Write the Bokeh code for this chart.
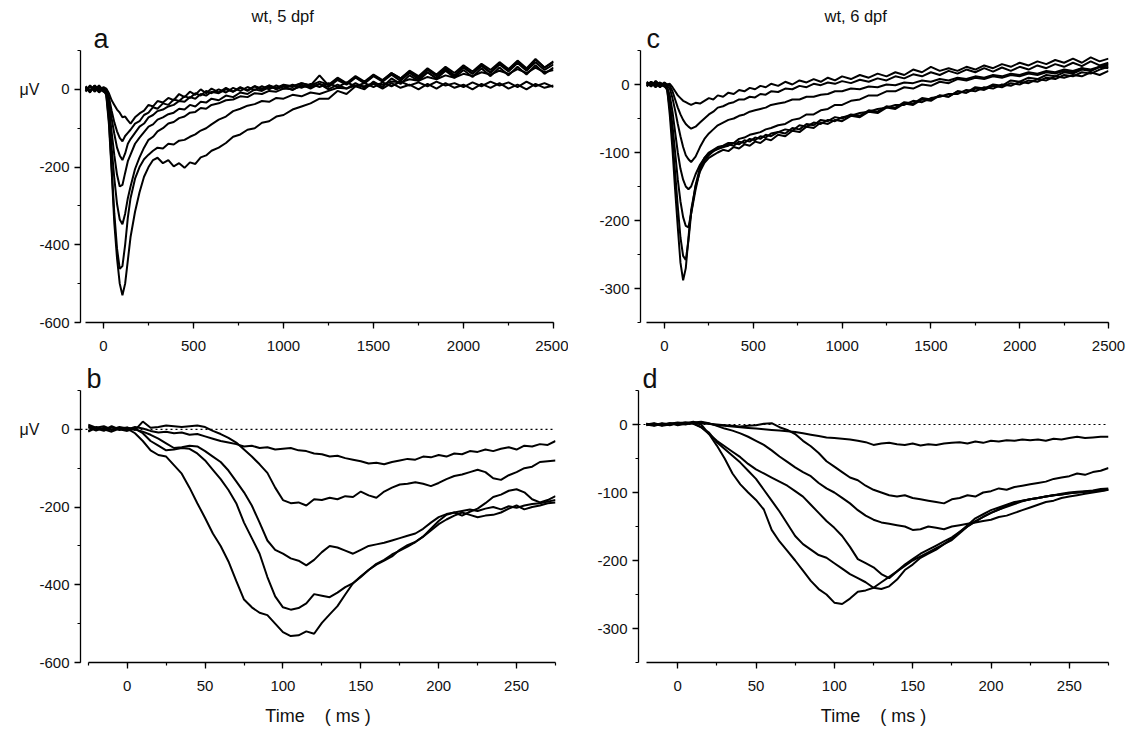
from bokeh.plotting import figure
from bokeh.layouts import column, row
from bokeh.models import (Range1d, SingleIntervalTicker, FixedTicker, Span,
                          PrintfTickFormatter, Title, LinearAxis)
from bokeh.embed import file_html
from bokeh.resources import INLINE

FONT = "Liberation Sans"

# ---------------- data: full-length recordings (ms, µV) ----------------
T_TOP = [-100, -75, -50, -25, 0,
         15, 30, 45, 60, 75, 90, 105, 120, 135, 150,
         175, 200, 225, 250, 275, 300, 330, 360, 390, 420,
         450, 480, 510, 540, 570, 600, 640, 680, 720, 760,
         800, 840, 880, 920, 960, 1000, 1050, 1100, 1150, 1200,
         1250, 1300, 1350, 1400, 1450, 1500, 1550, 1600, 1650, 1700,
         1750, 1800, 1850, 1900, 1950, 2000, 2050, 2100, 2150, 2200,
         2250, 2300, 2350, 2400, 2450, 2500]

# panel a: wt, 5 dpf
A1 = [5, -8, 10, -4, 6,
      2, -10, -28, -40, -52, -60, -72, -70, -80, -88,
      -72, -62, -55, -40, -44, -30, -34, -22, -28, -12,
      -20, -6, -14, 0, -10, 2, -8, 4, -6, 6,
      -4, 8, -2, 10, 0, 8, -2, 12, 2, 14,
      0, 12, 2, 16, 4, 14, 2, 16, 4, 12,
      0, 14, 2, 16, 4, 12, 0, 14, 4, 16,
      2, 12, 0, 14, 4, 10]
A2 = [-6, 8, -2, 10, -4,
      0, -20, -55, -85, -108, -125, -134, -120, -112, -104,
      -88, -82, -66, -60, -46, -50, -36, -40, -26, -30,
      -18, -22, -10, -16, -4, -10, 0, -8, 4, -4,
      6, -2, 8, 0, 10, 2, 12, 4, 14, 6,
      16, 6, 18, 8, 16, 6, 18, 8, 20, 10,
      18, 8, 20, 10, 16, 6, 18, 8, 20, 10,
      18, 6, 20, 8, 16, 6]
A3 = [8, -4, 6, -8, 2,
      -4, -30, -75, -115, -150, -170, -182, -165, -140, -128,
      -112, -96, -88, -72, -66, -56, -52, -44, -40, -30,
      -32, -20, -24, -12, -16, -6, -10, 0, -6, 4,
      -2, 8, 2, 10, 4, 12, 8, 16, 10, 36,
      10, 28, 14, 32, 16, 34, 20, 38, 22, 42,
      26, 44, 28, 48, 30, 50, 32, 54, 34, 56,
      36, 58, 38, 62, 40, 56]
A4 = [-4, 10, 0, 6, -6,
      -8, -45, -110, -170, -220, -250, -246, -215, -185, -168,
      -140, -124, -110, -96, -90, -78, -72, -64, -60, -50,
      -52, -40, -44, -32, -34, -24, -28, -16, -20, -8,
      -12, 0, -4, 6, 2, 10, 6, 16, 10, 20,
      12, 30, 16, 34, 20, 38, 24, 42, 28, 46,
      30, 50, 34, 54, 36, 58, 40, 60, 42, 64,
      46, 68, 48, 70, 50, 64]
A5 = [6, -2, 8, -6, 4,
      -10, -60, -150, -230, -295, -335, -347, -320, -280, -250,
      -205, -175, -150, -130, -122, -108, -100, -88, -84, -74,
      -70, -60, -58, -48, -50, -40, -36, -28, -26, -18,
      -20, -10, -12, -4, -6, 2, 0, 8, 6, 14,
      6, 24, 12, 30, 16, 36, 22, 42, 28, 48,
      34, 54, 38, 58, 42, 62, 46, 66, 50, 70,
      52, 74, 54, 78, 56, 72]
A6 = [-2, 8, -6, 4, 0,
      -12, -80, -200, -320, -410, -462, -455, -400, -330, -280,
      -230, -200, -180, -168, -158, -150, -152, -140, -142, -132,
      -130, -122, -116, -106, -100, -90, -78, -70, -56, -50,
      -42, -38, -30, -32, -22, -24, -14, -18, -8, -12,
      -4, 4, 2, 10, 8, 16, 12, 20, 18, 26,
      22, 32, 26, 36, 30, 40, 34, 44, 38, 48,
      40, 52, 42, 56, 44, 50]
A7 = [4, -6, 10, 0, -4,
      -14, -90, -210, -345, -435, -500, -530, -500, -440, -380,
      -315, -265, -225, -200, -182, -176, -190, -182, -198, -190,
      -202, -188, -192, -175, -170, -158, -150, -138, -122, -116,
      -104, -100, -86, -82, -70, -66, -52, -44, -36, -24,
      -24, -4, -12, 8, 0, 20, 6, 28, 14, 36,
      22, 44, 28, 50, 34, 56, 40, 62, 44, 66,
      50, 72, 52, 76, 56, 70]

# panel c: wt, 6 dpf
C1 = [2, -3, 5, -2, 3,
      0, 1, -4, -10, -16, -20, -24, -26, -28, -30,
      -27, -28, -24, -20, -22, -16, -18, -12, -14, -8,
      -10, -5, -7, -2, -4, 1, -2, 4, 0, 6,
      3, 8, 4, 10, 6, 12, 8, 14, 10, 16,
      12, 18, 14, 22, 18, 26, 20, 24, 20, 26,
      22, 28, 24, 30, 26, 32, 28, 34, 30, 36,
      32, 38, 32, 40, 34, 38]
C2 = [-3, 4, -1, 3, -2,
      0, -2, -10, -22, -34, -44, -52, -58, -62, -65,
      -62, -56, -50, -44, -40, -34, -32, -28, -26, -22,
      -22, -18, -19, -14, -15, -10, -11, -6, -7, -2,
      -4, 1, -1, 3, 1, 5, 2, 7, 4, 9,
      6, 12, 9, 15, 12, 18, 14, 20, 16, 22,
      18, 24, 19, 25, 20, 26, 22, 28, 24, 30,
      26, 32, 27, 34, 28, 32]
C3 = [3, -2, 4, -3, 1,
      -2, -6, -20, -38, -58, -76, -92, -104, -110, -114,
      -106, -92, -80, -72, -66, -60, -56, -52, -50, -46,
      -44, -40, -38, -36, -34, -30, -28, -26, -22, -22,
      -18, -18, -15, -14, -10, -10, -6, -7, -3, -4,
      0, -1, 3, 2, 6, 4, 8, 6, 10, 8,
      12, 10, 14, 12, 16, 14, 18, 16, 20, 18,
      22, 20, 24, 22, 26, 24]
C4 = [-2, 3, -4, 2, 0,
      -4, -16, -40, -70, -100, -124, -140, -150, -154, -150,
      -132, -118, -108, -100, -96, -92, -90, -86, -86, -80,
      -78, -74, -72, -70, -66, -64, -60, -58, -52, -50,
      -44, -44, -38, -36, -30, -30, -24, -22, -16, -16,
      -10, -10, -4, -6, 0, -2, 4, 2, 8, 6,
      10, 8, 12, 10, 14, 12, 16, 14, 18, 16,
      20, 18, 24, 20, 26, 28]
C5 = [4, -1, 2, -4, 3,
      -6, -25, -60, -100, -140, -172, -195, -208, -210, -190,
      -155, -125, -112, -104, -98, -94, -92, -88, -90, -84,
      -86, -80, -82, -76, -78, -72, -70, -66, -68, -60,
      -62, -56, -58, -52, -54, -48, -46, -42, -40, -36,
      -34, -30, -30, -24, -26, -20, -18, -14, -14, -8,
      -10, -4, -6, 0, -2, 4, 2, 8, 6, 12,
      10, 14, 12, 18, 14, 20]
C6 = [-1, 4, -3, 2, -2,
      -8, -35, -80, -130, -180, -225, -252, -258, -230, -190,
      -148, -122, -108, -102, -98, -95, -92, -90, -86, -88,
      -82, -84, -78, -80, -74, -76, -70, -72, -64, -66,
      -58, -60, -52, -54, -48, -50, -44, -46, -38, -40,
      -32, -34, -26, -28, -20, -22, -16, -18, -10, -12,
      -6, -8, -2, -4, 2, 0, 6, 4, 10, 8,
      14, 12, 18, 16, 22, 26]
C7 = [3, -2, 5, 0, -3,
      -6, -45, -95, -155, -210, -262, -288, -270, -225, -185,
      -150, -128, -115, -108, -104, -100, -96, -98, -92, -94,
      -88, -90, -84, -86, -80, -82, -74, -76, -68, -70,
      -62, -64, -56, -58, -52, -54, -46, -48, -40, -42,
      -34, -36, -28, -30, -22, -24, -16, -18, -10, -12,
      -4, -6, 0, -2, 6, 4, 10, 8, 14, 12,
      18, 16, 22, 20, 26, 30]

# ---------------- data: first 275 ms, expanded ----------------
T_B = [-25, -20, -15, -10, -5, 0, 5, 10, 15, 20,
       25, 30, 35, 40, 45, 50, 55, 60, 65, 70,
       75, 80, 85, 90, 95, 100, 105, 110, 115, 120,
       125, 130, 135, 140, 145, 150, 155, 160, 165, 170,
       175, 180, 185, 190, 195, 200, 205, 210, 215, 220,
       225, 230, 235, 240, 245, 250, 255, 260, 265, 270,
       275]
B1 = [5, -3, 4, -2, 3, 0, 6, 2, -4, -8,
      -6, -10, -8, -14, -12, -18, -24, -30, -34, -38,
      -44, -42, -48, -46, -52, -50, -48, -54, -56, -62,
      -64, -70, -68, -74, -78, -82, -88, -86, -90, -84,
      -80, -76, -78, -70, -72, -66, -70, -62, -64, -56,
      -58, -52, -56, -50, -46, -52, -42, -44, -38, -40,
      -30]
B2 = [-4, 6, 0, -6, 2, 5, -2, 20, 4, 6,
      10, 8, 6, 8, 10, 6, -4, -12, -22, -34,
      -52, -70, -90, -112, -150, -182, -190, -188, -196, -180,
      -182, -176, -180, -172, -174, -160, -170, -176, -160, -150,
      -142, -140, -136, -140, -146, -138, -128, -120, -116, -110,
      -104, -110, -126, -130, -118, -110, -100, -96, -84, -82,
      -80]
B3 = [8, 2, -4, 6, -2, 4, 0, -6, -14, -24,
      -36, -48, -46, -42, -44, -56, -70, -84, -106, -134,
      -162, -196, -240, -286, -310, -320, -332, -338, -350, -336,
      -316, -300, -304, -312, -320, -310, -300, -296, -292, -286,
      -280, -274, -268, -256, -240, -226, -218, -214, -210, -206,
      -210, -204, -200, -206, -198, -202, -196, -192, -190, -186,
      -182]
B4 = [-6, 4, -2, 8, 0, -4, 2, -10, -30, -42,
      -54, -52, -48, -50, -62, -80, -104, -128, -156, -190,
      -240, -280, -320, -380, -430, -458, -464, -460, -448, -424,
      -428, -432, -420, -406, -396, -380, -362, -346, -336, -322,
      -312, -302, -290, -276, -256, -236, -220, -214, -222, -212,
      -204, -190, -174, -168, -158, -154, -162, -180, -188, -182,
      -172]
B5 = [12, 4, 8, 0, 6, 2, -10, -30, -54, -66,
      -70, -92, -114, -150, -190, -228, -268, -300, -340, -390,
      -438, -458, -472, -478, -500, -522, -532, -530, -520, -526,
      -498, -476, -455, -425, -396, -378, -362, -348, -338, -327,
      -310, -298, -290, -276, -260, -244, -232, -222, -214, -220,
      -226, -222, -220, -214, -204, -196, -206, -200, -196, -190,
      -188]

T_D = [-20, -15, -10, -5, 0, 5, 10, 15, 20, 25,
       30, 35, 40, 45, 50, 55, 60, 65, 70, 75,
       80, 85, 90, 95, 100, 105, 110, 115, 120, 125,
       130, 135, 140, 145, 150, 155, 160, 165, 170, 175,
       180, 185, 190, 195, 200, 205, 210, 215, 220, 225,
       230, 235, 240, 245, 250, 255, 260, 265, 270, 275]
D1 = [0, -2, 1, -1, 2, 0, 3, 2, 1, -1,
      -2, -3, -4, -5, -6, -7, -8, -9, -10, -11,
      -13, -15, -17, -19, -20, -21, -22, -24, -26, -30,
      -28, -27, -29, -30, -28, -31, -29, -30, -28, -27,
      -26, -28, -25, -27, -24, -25, -23, -24, -22, -23,
      -22, -24, -21, -22, -20, -18, -20, -19, -18, -18]
D2 = [1, -1, 0, 2, -1, 1, 2, 3, 1, 0,
      -1, -2, -3, -2, -1, 1, 2, -4, -8, -14,
      -24, -32, -42, -54, -62, -70, -78, -82, -90, -96,
      -100, -104, -106, -104, -108, -110, -112, -114, -116, -110,
      -108, -104, -106, -100, -98, -94, -96, -92, -90, -88,
      -86, -84, -80, -78, -76, -72, -74, -70, -68, -64]
D3 = [-1, 1, -2, 0, 2, 1, 3, 4, 2, -2,
      -6, -9, -13, -18, -24, -30, -38, -47, -55, -63,
      -70, -76, -86, -94, -100, -108, -116, -126, -134, -140,
      -144, -146, -148, -150, -155, -154, -150, -152, -154, -150,
      -148, -146, -144, -142, -140, -136, -134, -130, -126, -122,
      -118, -114, -112, -108, -106, -104, -102, -100, -98, -96]
D4 = [0, 2, -1, 1, 3, 2, 4, 0, -14, -24,
      -32, -40, -48, -58, -66, -72, -78, -84, -90, -98,
      -106, -118, -130, -142, -152, -164, -180, -198, -204, -210,
      -220, -226, -216, -206, -198, -190, -184, -178, -172, -166,
      -158, -150, -143, -136, -130, -125, -120, -116, -112, -110,
      -108, -106, -104, -103, -101, -100, -99, -98, -97, -96]
D5 = [1, -1, 2, 0, 2, 3, 1, -4, -12, -26,
      -36, -46, -56, -68, -80, -96, -112, -128, -146, -164,
      -176, -184, -192, -196, -204, -212, -220, -226, -232, -240,
      -242, -238, -228, -214, -206, -196, -190, -184, -176, -170,
      -160, -150, -142, -136, -130, -125, -121, -117, -113, -110,
      -108, -106, -104, -102, -100, -99, -98, -97, -95, -94]
D6 = [0, 1, -1, 2, 1, 3, 2, -4, -14, -31,
      -50, -72, -88, -100, -111, -125, -155, -172, -186, -200,
      -215, -230, -242, -250, -262, -264, -256, -246, -244, -240,
      -232, -224, -216, -208, -200, -194, -188, -182, -176, -168,
      -158, -148, -138, -132, -126, -122, -118, -114, -112, -110,
      -108, -106, -104, -103, -101, -100, -99, -98, -97, -96]

TRACES_A = [A1, A2, A3, A4, A5, A6, A7]
TRACES_C = [C1, C2, C3, C4, C5, C6, C7]
TRACES_B = [B1, B2, B3, B4, B5]
TRACES_D = [D1, D2, D3, D4, D5, D6]

TIME_LABEL = "Time\u00a0\u00a0\u00a0\u00a0( ms )"
UNIT = "\u03bcV"


def make_panel(w, h, xr, yr, borders, xtick, ytick, xbounds, ybounds,
               letter, letter_offset, title=None, title_offset=0,
               xlabel=None, unit=False):
    bl, br, bt, bb = borders
    p = figure(width=w, height=h, output_backend="svg", toolbar_location=None,
               x_range=Range1d(*xr), y_range=Range1d(*yr),
               min_border_left=bl, min_border_right=br,
               min_border_top=bt, min_border_bottom=bb)
    p.outline_line_color = None
    p.xgrid.visible = False
    p.ygrid.visible = False
    p.background_fill_color = "white"
    p.border_fill_color = "white"
    p.xaxis.ticker = SingleIntervalTicker(interval=xtick, num_minor_ticks=2)
    p.yaxis.ticker = SingleIntervalTicker(interval=ytick, num_minor_ticks=2)
    p.xaxis.bounds = xbounds
    p.yaxis.bounds = ybounds
    for ax in (p.xaxis[0], p.yaxis[0]):
        ax.formatter = PrintfTickFormatter(format="%d")
        ax.axis_line_color = "black"
        ax.axis_line_width = 1.3
        ax.major_tick_line_color = "black"
        ax.major_tick_line_width = 1.3
        ax.minor_tick_line_color = "black"
        ax.minor_tick_line_width = 1.2
        ax.major_tick_in = 0
        ax.major_tick_out = 6
        ax.minor_tick_in = 0
        ax.minor_tick_out = 3
        ax.major_label_text_font = FONT
        ax.major_label_text_font_size = "15px"
        ax.major_label_text_color = "#111111"
    p.xaxis.major_label_standoff = 12
    p.yaxis.major_label_standoff = 5
    if xlabel:
        p.xaxis.axis_label = xlabel
        p.xaxis.axis_label_text_font = FONT
        p.xaxis.axis_label_text_font_size = "18px"
        p.xaxis.axis_label_text_font_style = "normal"
        p.xaxis.axis_label_text_color = "#111111"
        p.xaxis.axis_label_standoff = 12

    # panel letter just above the frame (nearest "above" item)
    p.add_layout(Title(text=letter, align="left", offset=letter_offset, standoff=-6,
                       text_font=FONT, text_font_size="27px", text_font_style="normal",
                       text_color="#111111"), "above")
    # heading (plot title, outermost)
    p.title = Title(text=title if title else "", align="left", offset=title_offset,
                    standoff=0, text_font=FONT, text_font_size="16.5px",
                    text_font_style="normal", text_color="#111111")

    if unit:
        # unit label placed level with the 0 tick, left of the tick labels
        uax = LinearAxis(ticker=FixedTicker(ticks=[0]), major_label_overrides={0: UNIT})
        uax.axis_line_color = None
        uax.major_tick_line_color = None
        uax.minor_tick_line_color = None
        uax.major_tick_in = 0
        uax.major_tick_out = 0
        uax.major_label_standoff = -3
        uax.major_label_text_font = FONT
        uax.major_label_text_font_size = "16px"
        uax.major_label_text_color = "#111111"
        p.add_layout(uax, "left")
    return p


# panel a
pa = make_panel(568, 358, (-128, 2500), (-600, 100), (80, 15, 50, 36),
                500, 200, (-100, 2500), (-600, 100),
                "a", 13, "wt, 5 dpf", 171, unit=True)
for tr in TRACES_A:
    pa.line(T_TOP, tr, line_color="black", line_width=2.0)

# panel c
pc = make_panel(560, 358, (-135, 2500), (-350, 50), (72, 20, 50, 36),
                500, 100, (-100, 2500), (-350, 50),
                "c", 6, "wt, 6 dpf", 184)
for tr in TRACES_C:
    pc.line(T_TOP, tr, line_color="black", line_width=2.0)

# panel b
pb = make_panel(568, 372, (-30, 275), (-600, 100), (80, 13, 32, 68),
                50, 200, (-25, 275), (-600, 100),
                "b", 6, xlabel=TIME_LABEL, unit=True)
pb.add_layout(Span(location=0, dimension="width", line_color="black",
                   line_width=1.2, line_dash="2 3"))
for tr in TRACES_B:
    pb.line(T_B, tr, line_color="black", line_width=2.0)

# panel d
pd_ = make_panel(560, 372, (-25, 275), (-350, 50), (70, 20, 32, 68),
                 50, 100, (-20, 275), (-350, 50),
                 "d", 4, xlabel=TIME_LABEL)
pd_.add_layout(Span(location=0, dimension="width", line_color="black",
                    line_width=1.2, line_dash="2 3"))
for tr in TRACES_D:
    pd_.line(T_D, tr, line_color="black", line_width=2.0)

layout = column(row(pa, pc), row(pb, pd_))
open("out.html", "w").write(file_html(layout, INLINE))
